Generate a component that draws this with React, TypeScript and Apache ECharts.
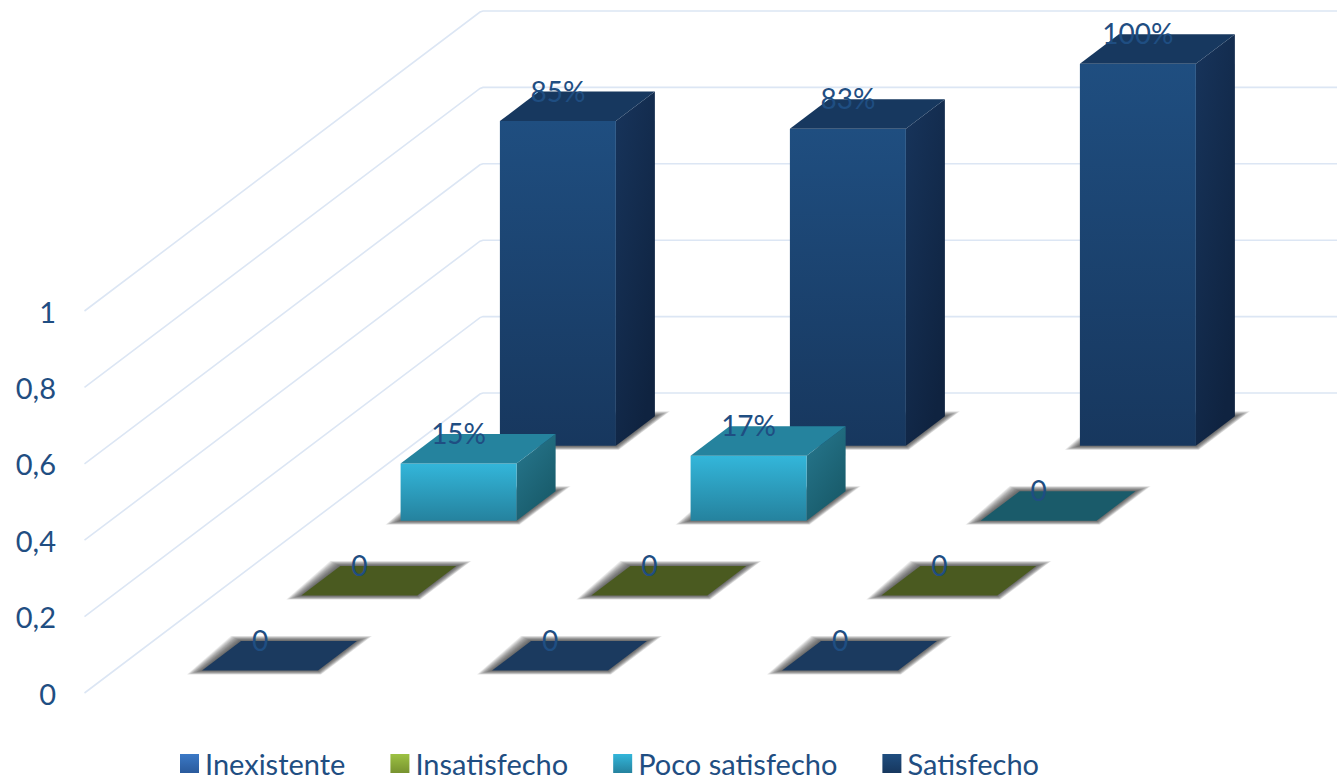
import React, { useEffect, useRef } from "react";
import * as echarts from "echarts";

const columns = ["1", "2", "3"];
const valueTicks = [0, 0.2, 0.4, 0.6, 0.8, 1];

const seriesNames = ["Inexistente", "Insatisfecho", "Poco satisfecho", "Satisfecho"];
const inexistente = [0, 0, 0];
const insatisfecho = [0, 0, 0];
const pocoSatisfecho = [0.15, 0.17, 0];
const satisfecho = [0.85, 0.83, 1];

const TEXT = "#1f4e82";
const FONT = "Lato, 'Open Sans', sans-serif";

// Oblique projection used for the floor: each row moves back and to the right.
const ROW_DX = 99.3;
const ROW_DY = 74.9;
const FLOOR_OFFSET = 22.5;
const HALF_W = 58;
const DEPTH_X = 39;
const DEPTH_Y = 29.5;
const SHADOW_LAYERS = 12;

const vertical = (a: string, b: string) =>
  new echarts.graphic.LinearGradient(0, 0, 0, 1, [
    { offset: 0, color: a },
    { offset: 1, color: b },
  ]);

const palettes = [
  { front: ["#3b79c6", "#2a5a9c"], side: ["#1f4e80", "#17375e"], top: "#1b3a5f" },
  { front: ["#9dc243", "#77922f"], side: ["#5a7024", "#4a5a20"], top: "#4a5a20" },
  { front: ["#33b6da", "#25829e"], side: ["#27788f", "#185a69"], top: "#25839e", flat: "#1a5b6a" },
  { front: ["#1f4e80", "#17375e"], side: ["#17345b", "#0f2340"], top: "#17385f" },
];

// Soft floor shadow: stacked translucent footprints, widest first.
function floorShadow(x0: number, x1: number, y: number) {
  const layers: any[] = [];
  for (let i = SHADOW_LAYERS; i >= 1; i--) {
    const t = i / SHADOW_LAYERS;
    layers.push({
      type: "polygon",
      shape: {
        points: [
          [x0 - 15 * t, y + 4 * t],
          [x1 + 3 * t, y + 4 * t],
          [x1 + DEPTH_X + 15 * t, y - DEPTH_Y - 5 * t],
          [x0 + DEPTH_X - 10 * t, y - DEPTH_Y - 5 * t],
        ],
      },
      style: { fill: "rgba(60,60,60,0.1)" },
    });
  }
  return layers;
}

function barRenderer(row: number) {
  return (_params: any, api: any) => {
    const column = api.value(0);
    const value = api.value(1);
    const base = api.coord([column, 0]);
    const tip = api.coord([column, value]);
    const pal: any = palettes[row];
    const shiftX = ROW_DX * row;
    const shiftY = FLOOR_OFFSET + ROW_DY * row;
    const x0 = base[0] + shiftX - HALF_W;
    const x1 = base[0] + shiftX + HALF_W;
    const yb = base[1] - shiftY;
    const yt = tip[1] - shiftY;
    const flat = value === 0;
    const label = flat ? "0" : `${Math.round(value * 100)}%`;
    const children: any[] = floorShadow(x0, x1, yb);
    if (!flat) {
      children.push({
        type: "polygon",
        shape: { points: [[x1, yt], [x1 + DEPTH_X, yt - DEPTH_Y], [x1 + DEPTH_X, yb - DEPTH_Y], [x1, yb]] },
        style: { fill: new echarts.graphic.LinearGradient(0, 0, 0.6, 1, [
          { offset: 0, color: pal.side[0] },
          { offset: 1, color: pal.side[1] },
        ]) },
      });
      children.push({
        type: "rect",
        shape: { x: x0, y: yt, width: x1 - x0, height: yb - yt },
        style: { fill: vertical(pal.front[0], pal.front[1]) },
      });
    }
    children.push({
      type: "polygon",
      shape: { points: [[x0, yt], [x1, yt], [x1 + DEPTH_X, yt - DEPTH_Y], [x0 + DEPTH_X, yt - DEPTH_Y]] },
      style: { fill: flat && pal.flat ? pal.flat : pal.top },
    });
    children.push({
      type: "text",
      style: {
        text: label,
        x: (x0 + x1) / 2,
        y: yt - DEPTH_Y - 1,
        fill: TEXT,
        font: `28px ${FONT}`,
        textAlign: "center",
        textVerticalAlign: "middle",
      },
    });
    return { type: "group", children };
  };
}

// Side wall and back wall rules for one axis value.
function wallRenderer(_params: any, api: any) {
  const y = api.coord([0, api.value(1)])[1];
  return {
    type: "polyline",
    shape: { points: [[84.5, y], [480, y - 299], [483, y - 300], [api.getWidth(), y - 300]] },
    style: { stroke: "#dce6f4", lineWidth: 1.6, fill: "none" },
  };
}

const rows = [inexistente, insatisfecho, pocoSatisfecho, satisfecho];

export default function App() {
  const ref = useRef<HTMLDivElement>(null);

  useEffect(() => {
    document.body.style.margin = "0";
    const chart = echarts.init(ref.current!, undefined, { renderer: "svg" });
    chart.setOption({
      animation: false,
      backgroundColor: "#ffffff",
      grid: { left: 115, top: 311, width: 870, height: 382 },
      xAxis: { type: "category", data: columns, show: false },
      yAxis: {
        type: "value",
        min: 0,
        max: 1,
        interval: 0.2,
        axisLine: { show: false },
        axisTick: { show: false },
        splitLine: { show: false },
        axisLabel: {
          margin: 59,
          padding: [2, 0, 0, 0],
          color: TEXT,
          fontFamily: FONT,
          fontSize: 29,
          formatter: (v: number) => String(Math.round(v * 10) / 10).replace(".", ","),
        },
      },
      legend: {
        left: 180,
        top: 749,
        itemWidth: 19,
        itemHeight: 19,
        itemGap: 45,
        textStyle: { color: TEXT, fontFamily: FONT, fontSize: 29, padding: [0, 0, 0, 1] },
        padding: 0,
        selectedMode: false,
        data: seriesNames.map((name, i) => ({
          name,
          icon: "rect",
          itemStyle: { color: vertical(palettes[i].front[0], palettes[i].front[1]) },
        })),
      },
      series: [
        {
          type: "custom",
          name: "rules",
          silent: true,
          z: 1,
          renderItem: wallRenderer,
          encode: { x: 0, y: 1 },
          data: valueTicks.map((t) => [0, t]),
        },
        // Drawn from the back row to the front row so nearer bars overlap.
        ...[3, 2, 1, 0].map((row) => ({
          type: "custom",
          name: seriesNames[row],
          z: 2 + (3 - row),
          renderItem: barRenderer(row),
          encode: { x: 0, y: 1 },
          itemStyle: { color: palettes[row].front[0] },
          data: rows[row].map((v, c) => [c, v]),
        })),
      ],
    });
    return () => chart.dispose();
  }, []);

  return <div ref={ref} style={{ width: 1337, height: 775 }} />;
}
